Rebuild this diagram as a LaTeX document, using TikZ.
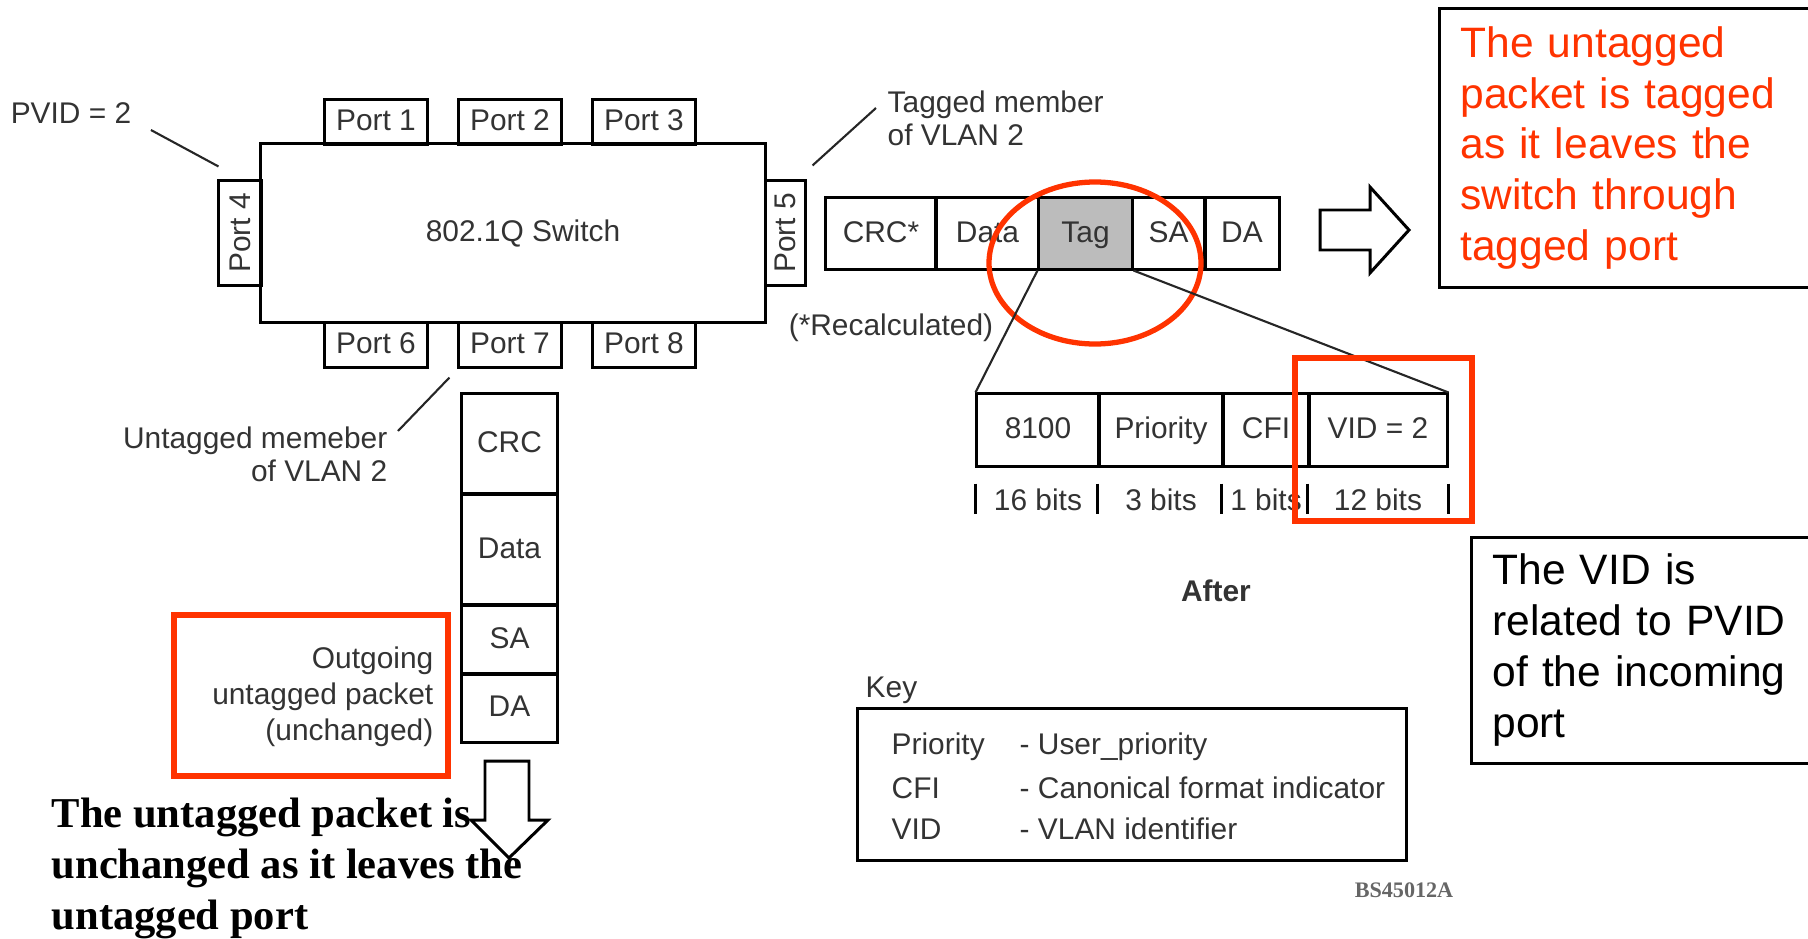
\documentclass[tikz,border=0pt]{standalone}
\usepackage{fontspec}
\setmainfont{Liberation Serif}
\newfontfamily\arialfont{Liberation Sans}
\usetikzlibrary{positioning,calc}
\definecolor{notered}{RGB}{255,51,0}
\definecolor{tagfill}{RGB}{188,188,188}

\tikzset{
  diag/.style={font=\arialfont\fontsize{8.5}{9.4}\selectfont, text=black!80, inner sep=0pt},
  cellbox/.style={draw, line width=0.85pt, diag, text height=0.72em, text depth=0.21em},
  leader/.style={line width=0.6pt, draw=black!85},
  redmark/.style={draw=notered, line width=1.5pt},
  notebox/.style={draw, line width=0.8pt, anchor=north west, align=left, inner xsep=0.21cm,
    font=\arialfont\fontsize{12.1}{14.5}\selectfont},
}

\begin{document}
\begin{tikzpicture}[x=0.01cm, y=-0.01cm]
  \useasboundingbox (0,0) rectangle (1808,939);

  % switch with ports 1-3 on top, 6-8 below, 4 and 5 at the sides
  \node[cellbox, minimum width=5.05cm, minimum height=1.79cm] (switch) at (513,233) {};
  \node[diag] (switchname) at (523,233) {802.1Q Switch};
  \foreach \n/\x in {1/376,2/510,3/644}
    \node[cellbox, minimum width=1.02cm, minimum height=0.44cm] (port\n) at (\x,122) {Port \n};
  \foreach \n/\x in {6/376,7/510,8/644}
    \node[cellbox, minimum width=1.02cm, minimum height=0.44cm] (port\n) at (\x,345) {Port \n};
  \node[cellbox, text height=, text depth=, minimum width=0.42cm, minimum height=1.04cm] (port4) at (240,233) {\rotatebox{90}{Port 4}};
  \node[cellbox, text height=, text depth=, minimum width=0.39cm, minimum height=1.04cm] (port5) at (785.5,233) {\rotatebox{90}{Port 5}};

  % labels round the switch
  \node[diag] (pvid) at (71,113) {PVID = 2};
  \node[diag, anchor=north west, align=left] (tagmem) at (887,90) {Tagged member\\of VLAN 2};
  \node[diag, anchor=north east, align=right] (untagmem) at (388,426) {Untagged memeber\\of VLAN 2};
  \draw[leader] ($(pvid.east)+(19,17)$) -- ($(port4.north west)+(1,-13)$);
  \draw[leader] ($(port5.north east)+(6,-14)$) -- ($(tagmem.north west)+(-11,18)$);
  \draw[leader] ($(untagmem.north east)+(10,5)$) -- ($(port7.south west)+(-8,9)$);

  % tagged packet leaving port 5
  \foreach \nm/\cx/\w/\txt in {crcT/881/1.10/CRC*, dataT/987.5/1.03/Data, saT/1168.5/0.73/SA, daT/1242/0.74/DA}
    \node[cellbox, minimum width=\w cm, minimum height=0.71cm] (\nm) at (\cx,233.5) {\txt};
  \node[cellbox, fill=tagfill, minimum width=0.93cm, minimum height=0.71cm] (tagT) at (1085.5,233.5) {Tag};
  \node[diag] (recalc) at (891,328) {(*Recalculated)};
  \draw[redmark] (1095,263) ellipse (106 and 81);

  % outgoing arrow
  \draw[line width=0.85pt] (1320,210) -- (1370,210) -- (1370,187) -- (1409,230) -- (1370,273) -- (1370,250) -- (1320,250) -- cycle;

  % tag field detail
  \foreach \nm/\cx/\w/\txt in {d8100/1038/1.22/8100, dprio/1161/1.24/Priority, dcfi/1266/0.86/CFI, dvid/1378/1.38/VID = 2}
    \node[cellbox, minimum width=\w cm, minimum height=0.72cm] (\nm) at (\cx,430) {\txt};
  \draw[leader] (tagT.south west) -- (d8100.north west);
  \draw[leader] (tagT.south east) -- (dvid.north east);
  % bit widths
  \foreach \nm/\bits in {d8100/16, dprio/3, dcfi/1, dvid/12} {
    \draw[line width=0.8pt] (\nm.south west) ++(0,16) -- ++(0,30);
    \node[diag] (bits\nm) at ($(\nm.south)+(0,32)$) {\bits\ bits};
  }
  \draw[line width=0.8pt] (dvid.south east) ++(0,16) -- ++(0,30);
  \draw[redmark] (1295,358) rectangle (1472,521);

  \node[diag, font=\arialfont\bfseries\fontsize{8.5}{9.4}\selectfont] (after) at (1216,591) {After};

  % vertical untagged packet leaving port 7
  \foreach \nm/\cy/\h/\txt in {crcV/444/1.00/CRC, dataV/549.5/1.11/Data, saV/639.5/0.69/SA, daV/708/0.68/DA}
    \node[cellbox, minimum width=0.95cm, minimum height=\h cm] (\nm) at (509.5,\cy) {\txt};
  \draw[line width=0.85pt] (485,761) -- (529,761) -- (529,820) -- (548,820) -- (509,858) -- (471,820) -- (485,820) -- cycle;

  \node[diag, anchor=north east, align=right, font=\arialfont\fontsize{8.5}{10.2}\selectfont] (outgoing) at (434,646) {Outgoing\\untagged packet\\(unchanged)};
  \draw[redmark] (174,615) rectangle (448,776);

  % key
  \node[diag, anchor=base west] (keyhead) at (865,697) {Key};
  \node[draw, line width=0.85pt, minimum width=5.48cm, minimum height=1.51cm] (keybox) at (1132,784.5) {};
  \foreach \nm/\y/\abbr/\desc in {kprio/754/Priority/User\_priority, kcfi/798/CFI/Canonical format indicator, kvid/839/VID/VLAN identifier} {
    \node[diag, anchor=base west] (\nm) at (891,\y) {\abbr};
    \node[diag, anchor=base west] (\nm-d) at (1019,\y) {- \desc};
  }
  \node[font=\bfseries\fontsize{6.3}{7}\selectfont, text=black!60] (figid) at (1404,890) {BS45012A};

  % notes
  \node[notebox, text=notered, text width=3.6cm, minimum height=2.79cm] (tagnote) at (1438,7) {The untagged\\packet is tagged\\as it leaves the\\switch through\\tagged port};
  \node[notebox, text width=3.6cm, minimum height=2.26cm] (vidnote) at (1470,536) {The VID is\\related to PVID\\of the incoming\\port};
  \node[anchor=north west, inner sep=0pt, align=left, font=\bfseries\fontsize{12.1}{14.6}\selectfont] (untagnote) at (51,797) {The untagged packet is\\unchanged as it leaves the\\untagged port};
\end{tikzpicture}
\end{document}
